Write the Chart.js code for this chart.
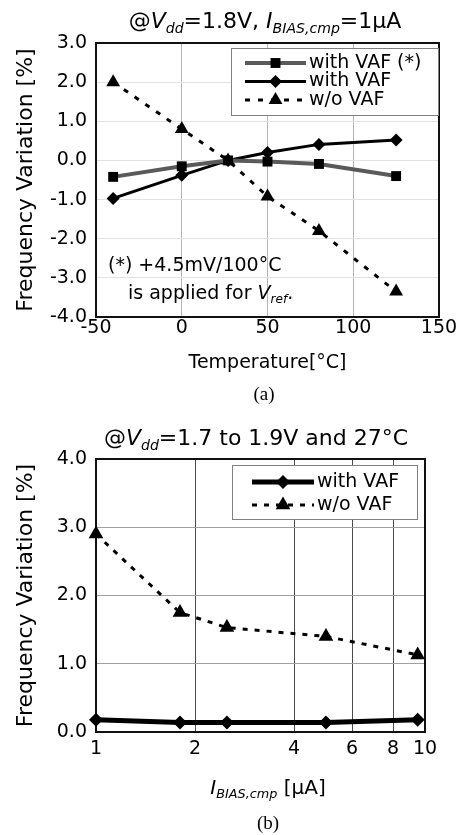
<!DOCTYPE html>
<html>
<head>
<meta charset="utf-8">
<script src="https://cdn.jsdelivr.net/npm/chart.js@4.4.1/dist/chart.umd.min.js"></script>
<style>
body { margin: 0; background: #fff; width: 462px; height: 835px; position: relative; overflow: hidden; font-family: 'DejaVu Sans', sans-serif; color: #000; }
canvas { position: absolute; left: 0; }
.c { position: absolute; white-space: nowrap; transform: translate(-50%, -50%); font-size: 20px; line-height: 1; }
.l { position: absolute; white-space: nowrap; transform: translateY(-50%); font-size: 19px; line-height: 1; }
sub { font-size: 64%; vertical-align: -0.35em; line-height: 0; }
.big { font-size: 22px; }
.cap { font-family: 'Liberation Serif', serif; font-size: 19px; }
</style>
</head>
<body>
<canvas id="chartA" width="462" height="375" style="top:0"></canvas>
<canvas id="chartB" width="462" height="400" style="top:400px"></canvas>

<div class="c big" style="left:265px;top:21px">@<i>V</i><sub><i>dd</i></sub>=1.8V, <i>I</i><sub><i>BIAS,cmp</i></sub>=1μA</div>
<div class="l" style="left:108px;top:264px">(*) +4.5mV/100°C</div>
<div class="l" style="left:128px;top:292px">is applied for <i>V</i><sub><i>ref</i></sub>.</div>
<div class="c cap" style="left:264px;top:393px">(a)</div>

<div class="c big" style="left:256px;top:438px">@<i>V</i><sub><i>dd</i></sub>=1.7 to 1.9V and 27°C</div>
<div class="c" style="left:268px;top:787px"><i>I</i><sub><i>BIAS,cmp</i></sub> [μA]</div>
<div class="c cap" style="left:268px;top:822px">(b)</div>

<script>
// (a) frequency variation vs temperature
const tempC = [-40, 0, 27, 50, 80, 125];
const withVafStar = [-0.42, -0.15, 0, -0.03, -0.09, -0.4];
const withVafA = [-0.97, -0.38, 0, 0.2, 0.41, 0.52];
const noVafA = [2.0, 0.8, 0, -0.92, -1.8, -3.35];
const tempTicks = [-50, 0, 50, 100, 150];

// (b) frequency variation vs bias current
const biasUA = [1, 1.8, 2.5, 5, 9.5];
const withVafB = [0.18, 0.14, 0.14, 0.14, 0.18];
const noVafB = [2.9, 1.75, 1.53, 1.4, 1.13];
const biasTicks = [1, 2, 4, 6, 8, 10];

Chart.defaults.font.family = 'DejaVu Sans';
Chart.defaults.font.size = 19;
Chart.defaults.color = '#000';

const pts = (xs, ys) => xs.map((x, i) => ({ x: x, y: ys[i] }));

function marker(ctx, style, x, y, r) {
    ctx.beginPath();
    if (style === 'rect') {
        const s = r * Math.SQRT1_2;
        ctx.rect(x - s, y - s, 2 * s, 2 * s);
    } else if (style === 'rectRot') {
        ctx.moveTo(x - r, y);
        ctx.lineTo(x, y - r);
        ctx.lineTo(x + r, y);
        ctx.lineTo(x, y + r);
        ctx.closePath();
    } else {
        const h = r * Math.sin(Math.PI / 3);
        ctx.moveTo(x, y - r);
        ctx.lineTo(x + h, y + r / 2);
        ctx.lineTo(x - h, y + r / 2);
        ctx.closePath();
    }
    ctx.fill();
}

// frame around the plot area
const plotBox = {
    id: 'plotBox',
    beforeDatasetsDraw(chart, args, opts) {
        const { ctx, chartArea: a } = chart;
        ctx.save();
        ctx.strokeStyle = opts.color;
        ctx.lineWidth = opts.width;
        ctx.strokeRect(a.left, a.top, a.right - a.left, a.bottom - a.top);
        ctx.restore();
    }
};

// legend drawn as a box inside the plot
const boxLegend = {
    id: 'boxLegend',
    afterDatasetsDraw(chart, args, o) {
        const { ctx, chartArea: a } = chart;
        const x0 = a.left + o.left, y0 = a.top + o.top;
        ctx.save();
        ctx.fillStyle = '#fff';
        ctx.fillRect(x0, y0, o.width, o.height);
        ctx.strokeStyle = '#808080';
        ctx.lineWidth = 1;
        ctx.strokeRect(x0 + 0.5, y0 + 0.5, o.width, o.height);
        ctx.font = o.fontSize + 'px "DejaVu Sans"';
        ctx.textBaseline = 'middle';
        chart.data.datasets.forEach((ds, i) => {
            const y = y0 + o.firstRow + i * o.rowGap;
            const sx = x0 + o.sampleX;
            ctx.strokeStyle = ds.borderColor;
            ctx.lineWidth = ds.borderWidth;
            ctx.setLineDash(ds.borderDash || []);
            ctx.beginPath();
            ctx.moveTo(sx, y);
            ctx.lineTo(sx + o.sampleW, y);
            ctx.stroke();
            ctx.setLineDash([]);
            ctx.fillStyle = ds.pointBackgroundColor;
            marker(ctx, ds.pointStyle, sx + o.sampleW / 2, y, ds.pointRadius);
            ctx.fillStyle = '#000';
            ctx.fillText(ds.label, sx + o.sampleW + o.gap, y);
        });
        ctx.restore();
    }
};

new Chart(document.getElementById('chartA'), {
    type: 'line',
    data: {
        datasets: [{
            label: 'with VAF (*)',
            data: pts(tempC, withVafStar),
            borderColor: '#5a5a5a',
            borderWidth: 4,
            pointStyle: 'rect',
            pointRadius: 7,
            pointBackgroundColor: '#000',
            pointBorderWidth: 0
        }, {
            label: 'with VAF',
            data: pts(tempC, withVafA),
            borderColor: '#000',
            borderWidth: 3,
            pointStyle: 'rectRot',
            pointRadius: 6.5,
            pointBackgroundColor: '#000',
            pointBorderWidth: 0
        }, {
            label: 'w/o VAF',
            data: pts(tempC, noVafA),
            borderColor: '#000',
            borderWidth: 3,
            borderDash: [5, 8],
            pointStyle: 'triangle',
            pointRadius: 8,
            pointBackgroundColor: '#000',
            pointBorderWidth: 0
        }]
    },
    options: {
        responsive: false,
        animation: false,
        clip: false,
        layout: { padding: { top: 43, right: 23, left: 0, bottom: 0 } },
        plugins: {
            legend: { display: false },
            tooltip: { enabled: false },
            plotBox: { color: '#111', width: 2 },
            boxLegend: { left: 135, top: 5, width: 207, height: 67, firstRow: 15, rowGap: 18.5, sampleX: 14, sampleW: 61, gap: 3, fontSize: 19 }
        },
        scales: {
            x: {
                type: 'linear',
                min: -50,
                max: 150,
                afterBuildTicks: s => { s.ticks = tempTicks.map(v => ({ value: v })); },
                afterFit: s => { s.height = 58; },
                ticks: { padding: 0, maxRotation: 0 },
                grid: {
                    drawTicks: false,
                    color: c => (c.tick && c.tick.value > -50 && c.tick.value < 150) ? '#b4b4b4' : 'rgba(0,0,0,0)'
                },
                border: { display: false },
                title: { display: true, text: 'Temperature[°C]', font: { size: 19 }, padding: { top: 0, bottom: 1 } }
            },
            y: {
                min: -4,
                max: 3,
                afterFit: s => { s.width = 96; },
                ticks: { stepSize: 1, padding: 9, callback: v => v.toFixed(1) },
                grid: {
                    drawTicks: false,
                    color: c => (c.tick && c.tick.value > -4 && c.tick.value < 3) ? '#e2e2e2' : 'rgba(0,0,0,0)'
                },
                border: { display: false },
                title: { display: true, text: 'Frequency Variation [%]', font: { size: 22 }, padding: { top: 13, bottom: 0 } }
            }
        }
    },
    plugins: [plotBox, boxLegend]
});

new Chart(document.getElementById('chartB'), {
    type: 'line',
    data: {
        datasets: [{
            label: 'with VAF',
            data: pts(biasUA, withVafB),
            borderColor: '#000',
            borderWidth: 5,
            pointStyle: 'rectRot',
            pointRadius: 7,
            pointBackgroundColor: '#000',
            pointBorderWidth: 0
        }, {
            label: 'w/o VAF',
            data: pts(biasUA, noVafB),
            borderColor: '#000',
            borderWidth: 3,
            borderDash: [5, 7],
            pointStyle: 'triangle',
            pointRadius: 8.5,
            pointBackgroundColor: '#000',
            pointBorderWidth: 0
        }]
    },
    options: {
        responsive: false,
        animation: false,
        clip: false,
        layout: { padding: { top: 59, right: 37, left: 0, bottom: 0 } },
        plugins: {
            legend: { display: false },
            tooltip: { enabled: false },
            plotBox: { color: '#111', width: 2 },
            boxLegend: { left: 136, top: 6, width: 185, height: 54, firstRow: 17, rowGap: 23, sampleX: 20, sampleW: 62, gap: 3, fontSize: 19 }
        },
        scales: {
            x: {
                type: 'logarithmic',
                min: 1,
                max: 10,
                afterBuildTicks: s => { s.ticks = biasTicks.map(v => ({ value: v })); },
                afterFit: s => { s.height = 68; },
                ticks: { padding: 6, maxRotation: 0, callback: v => String(v) },
                grid: {
                    drawTicks: false,
                    color: c => (c.tick && c.tick.value > 1 && c.tick.value < 10) ? '#4a4a4a' : 'rgba(0,0,0,0)'
                },
                border: { display: false }
            },
            y: {
                min: 0,
                max: 4,
                afterFit: s => { s.width = 96; },
                ticks: { stepSize: 1, padding: 9, callback: v => v.toFixed(1) },
                grid: {
                    drawTicks: false,
                    color: c => (c.tick && c.tick.value > 0 && c.tick.value < 4) ? '#a0a0a0' : 'rgba(0,0,0,0)'
                },
                border: { display: false },
                title: { display: true, text: 'Frequency Variation [%]', font: { size: 22 }, padding: { top: 13, bottom: 0 } }
            }
        }
    },
    plugins: [plotBox, boxLegend]
});
</script>
</body>
</html>
